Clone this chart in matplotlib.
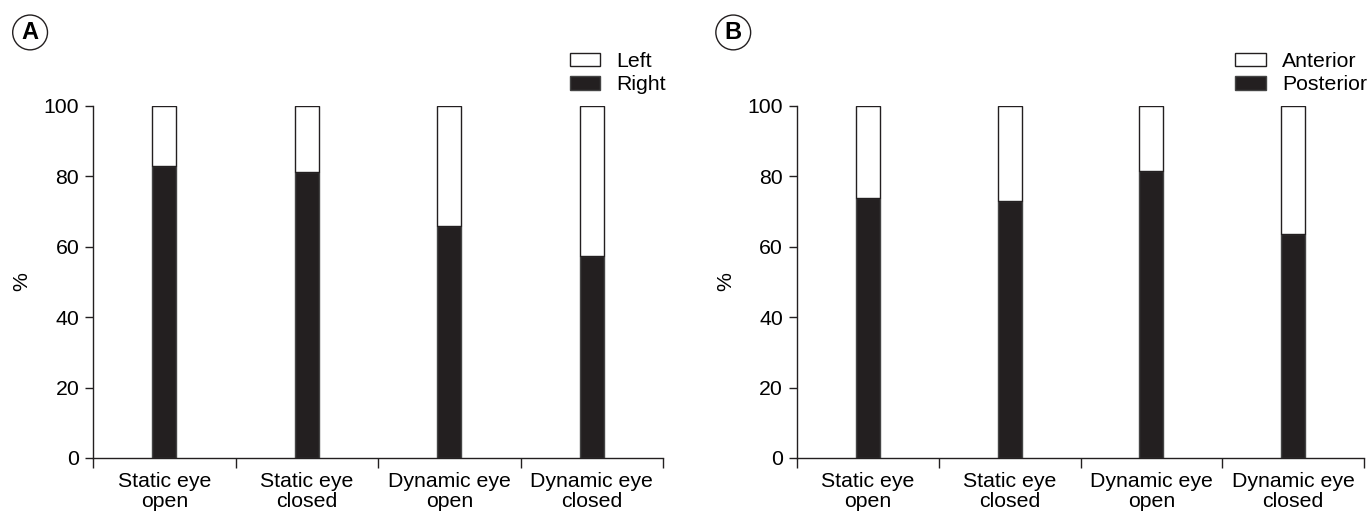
import matplotlib
matplotlib.use("Agg")
import matplotlib.pyplot as plt

plt.rcParams['font.family'] = ['Liberation Sans', 'DejaVu Sans']

categories = ['Static eye\nopen', 'Static eye\nclosed', 'Dynamic eye\nopen', 'Dynamic eye\nclosed']
right_pct = [83.0, 81.2, 66.0, 57.3]
posterior_pct = [73.9, 73.0, 81.5, 63.6]
yticks = [0, 20, 40, 60, 80, 100]

dark = '#231f20'
fs = 15.3

fig = plt.figure(figsize=(13.68, 5.15), dpi=100)
ax_a = fig.add_axes([0.068, 0.1107, 0.4167, 0.6835])
ax_b = fig.add_axes([0.5826, 0.1107, 0.4145, 0.6835])

panels = [
    (ax_a, right_pct, 'Left', 'Right', 'A', 0.022),
    (ax_b, posterior_pct, 'Anterior', 'Posterior', 'B', 0.536),
]

for ax, vals, top_name, bot_name, tag, tx in panels:
    x = list(range(len(categories)))
    tops = [100 - v for v in vals]
    hb = ax.bar(x, vals, width=0.17, color=dark, edgecolor='#444444', linewidth=1, label=bot_name)
    ht = ax.bar(x, tops, bottom=vals, width=0.17, color='white', edgecolor=dark, linewidth=1, label=top_name)

    ax.set_xlim(-0.5, 3.5)
    ax.set_ylim(0, 100)
    ax.set_yticks(yticks)
    ax.set_xticks(x)
    ax.set_xticklabels(categories, fontsize=fs, linespacing=1.08)
    ax.tick_params(axis='x', length=0, pad=10)
    ax.set_xticks([-0.5, 0.5, 1.5, 2.5, 3.5], minor=True)
    ax.tick_params(axis='x', which='minor', length=7, width=1, color=dark, direction='out')
    ax.tick_params(axis='y', labelsize=fs, length=6, width=1, color=dark, pad=4)
    for s in ['top', 'right']:
        ax.spines[s].set_visible(False)
    for s in ['left', 'bottom']:
        ax.spines[s].set_color(dark)
        ax.spines[s].set_linewidth(1)
    ax.set_ylabel('%', fontsize=fs, labelpad=9)

    ax.legend([ht, hb], [top_name, bot_name], loc='lower right',
              bbox_to_anchor=(1.005, 1.033), frameon=False, fontsize=fs,
              handlelength=1.45, handleheight=0.6, handletextpad=0.75,
              labelspacing=0.2, borderpad=0, borderaxespad=0)

    fig.text(tx, 0.937, tag, fontsize=17, fontweight='bold', ha='center', va='center',
             bbox=dict(boxstyle='circle,pad=0.25', facecolor='white', edgecolor=dark, linewidth=1))

fig.savefig('out.png', dpi=100)
